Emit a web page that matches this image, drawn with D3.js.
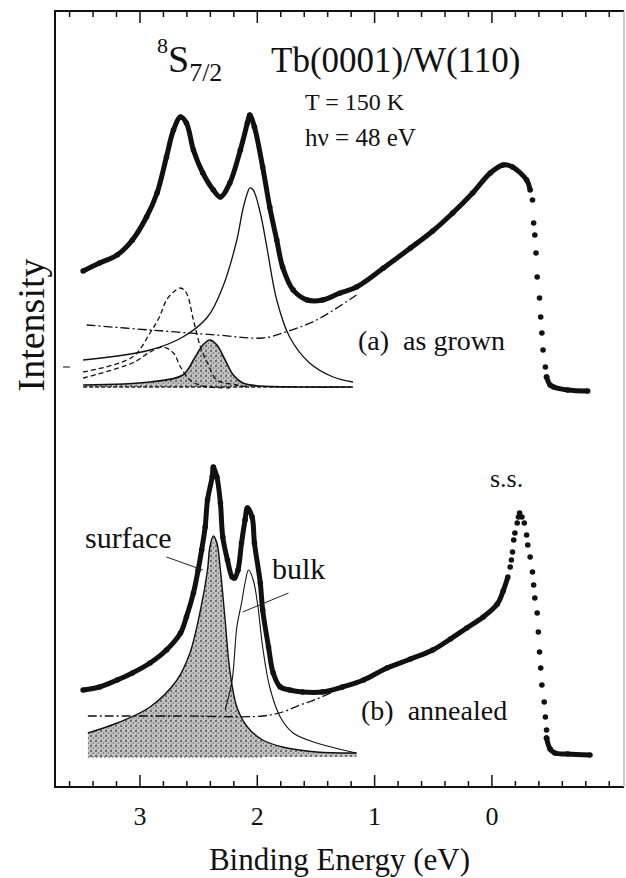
<!DOCTYPE html>
<html>
<head>
<meta charset="utf-8">
<script src="https://d3js.org/d3.v7.min.js"></script>
<style>
body { margin: 0; background: #fff; }
text { font-family: "Liberation Serif", "Times New Roman", serif; fill: #111; }
</style>
</head>
<body>
<script>
// binding energy (eV), intensity (arb. units)

// (a) as grown - measured points
var specA = [[3.48,51.6],[3.34,52.4],[3.19,53.2],[3.06,54.7],[2.94,57.0],[2.85,59.4],[2.77,63.0],
  [2.71,65.7],[2.65,67.0],[2.60,66.4],[2.54,63.7],[2.46,61.4],[2.37,59.7],[2.31,59.0],[2.23,60.4],
  [2.14,63.7],[2.08,66.4],[2.06,67.2],[2.02,66.0],[1.95,62.0],[1.89,58.0],[1.83,54.7],[1.78,52.0],
  [1.69,49.7],[1.57,48.7],[1.44,48.7],[1.29,49.4],[1.15,50.0],[0.92,51.9],[0.69,53.9],[0.50,55.6],
  [0.33,57.4],[0.16,59.4],[0.01,61.4],[-0.10,62.2],[-0.18,62.0],[-0.30,60.7],[-0.33,59.7]];
var specAEdge = [[-0.35,58.7],[-0.36,56.4],[-0.37,55.2],[-0.38,53.4],[-0.39,51.0],[-0.41,48.9],
  [-0.42,47.0],[-0.43,45.4],[-0.44,43.7],[-0.46,42.0],[-0.47,41.0]];
var specATail = [[-0.47,41.0],[-0.50,40.2],[-0.53,40.0],[-0.65,39.7],[-0.82,39.6]];

// (a) fit components
var bulkA = [[3.48,42.7],[2.91,43.7],[2.63,45.0],[2.42,47.0],[2.29,50.0],[2.17,54.7],[2.12,57.7],
  [2.08,59.4],[2.06,59.9],[2.03,59.7],[1.97,57.4],[1.91,53.7],[1.83,48.7],[1.72,45.0],[1.55,42.4],
  [1.35,41.0],[1.18,40.5]];
var dashA1 = [[3.48,41.5],[3.06,43.0],[2.91,45.4],[2.83,47.0],[2.77,48.7],[2.71,49.5],[2.65,49.9],
  [2.60,49.4],[2.54,46.7],[2.48,44.0],[2.42,42.4],[2.34,40.7],[2.17,40.2],[2.06,40.0]];
var dashA2 = [[3.48,40.9],[3.06,42.4],[2.91,43.5],[2.80,44.0],[2.71,43.4],[2.65,42.0],[2.57,40.7],
  [2.46,40.1],[2.23,39.9]];
var surfA = [[3.48,40.2],[2.91,40.5],[2.63,41.2],[2.53,42.9],[2.46,44.2],[2.40,44.7],[2.34,44.2],
  [2.27,42.7],[2.20,41.2],[2.12,40.4],[1.97,40.1],[1.63,40.0],[1.18,40.0]];
var bgA = [[3.45,46.2],[2.91,45.7],[2.34,45.2],[1.95,44.9],[1.78,45.4],[1.49,46.7],[1.15,49.2]];
var baseA = 40.0;

// (b) annealed - measured points
var specB = [[3.48,9.7],[3.34,10.0],[3.19,10.7],[3.06,11.4],[2.91,12.4],[2.77,13.7],[2.65,15.4],
  [2.60,17.0],[2.54,19.4],[2.50,21.7],[2.47,23.7],[2.44,26.0],[2.42,28.7],[2.38,31.0],[2.37,32.0],
  [2.34,31.0],[2.31,28.4],[2.29,25.0],[2.25,22.7],[2.21,21.0],[2.19,20.9],[2.16,21.7],[2.13,24.4],
  [2.10,26.7],[2.08,27.9],[2.04,27.0],[2.02,24.4],[1.97,20.4],[1.95,17.7],[1.90,14.0],[1.86,11.4],
  [1.80,10.0],[1.72,9.7],[1.61,9.5],[1.44,9.5],[1.27,10.0],[1.09,10.7],[0.89,11.9],[0.69,12.8],
  [0.50,13.7],[0.35,14.8],[0.21,15.9],[0.07,17.0],[-0.05,18.3],[-0.10,19.6],[-0.14,21.0]];
var specBEdge = [[-0.16,22.0],[-0.17,22.7],[-0.18,23.5],[-0.19,24.7],[-0.20,25.4],[-0.22,26.4],
  [-0.23,27.0],[-0.24,27.4],[-0.26,27.0],[-0.28,26.4],[-0.30,25.2],[-0.31,24.2],[-0.33,23.0],
  [-0.35,21.5],[-0.36,20.2],[-0.37,18.9],[-0.39,17.4],[-0.40,15.5],[-0.41,13.5],[-0.42,11.9],
  [-0.43,10.2],[-0.45,8.5],[-0.46,7.0],[-0.47,5.7],[-0.47,4.9]];
var specBTail = [[-0.47,4.9],[-0.50,3.8],[-0.54,3.4],[-0.65,3.3],[-0.84,3.2]];

// (b) fit components
var surfB = [[3.44,5.4],[3.19,6.4],[2.91,8.0],[2.68,10.7],[2.57,13.4],[2.48,17.7],[2.42,21.7],
  [2.40,24.0],[2.37,25.1],[2.34,24.4],[2.31,21.7],[2.27,16.7],[2.23,11.7],[2.17,8.0],[2.08,6.0],
  [1.95,4.7],[1.78,4.0],[1.49,3.5],[1.15,3.4]];
var bulkB = [[2.27,7.7],[2.21,10.7],[2.17,16.0],[2.13,18.4],[2.10,20.4],[2.07,21.7],[2.03,20.7],
  [1.99,18.0],[1.95,14.0],[1.89,10.0],[1.80,7.0],[1.69,5.4],[1.49,4.4],[1.15,3.4]];
var bgB = [[3.44,7.1],[2.65,7.1],[1.95,7.1],[1.78,7.5],[1.63,8.2],[1.49,8.8],[1.35,9.5]];
var baseB = 3.0;

// axis ticks
var majorTicks = [3, 2, 1, 0];
var minorTicks = [3.6,3.4,3.2,2.8,2.6,2.4,2.2,1.8,1.6,1.4,1.2,0.8,0.6,0.4,0.2,-0.2,-0.4,-0.6,-0.8,-1.0];

var width = 626, height = 878;
var mLeft = 55, mRight = 624, mTop = 11, mBottom = 787;

var x = d3.scaleLinear().domain([3.72, -1.13]).range([mLeft, mRight]);
var y = d3.scaleLinear().domain([0, 77.6]).range([mBottom, mTop]);

var svg = d3.select("body").append("svg")
  .attr("width", width)
  .attr("height", height);

// stipple pattern for the surface component
var pat = svg.append("defs").append("pattern")
  .attr("id", "stip")
  .attr("width", 5).attr("height", 5)
  .attr("patternUnits", "userSpaceOnUse");
pat.append("rect").attr("width", 5).attr("height", 5).attr("fill", "#c4c4c4");
pat.append("circle").attr("cx", 1).attr("cy", 1).attr("r", 0.9).attr("fill", "#444");
pat.append("circle").attr("cx", 3.5).attr("cy", 3).attr("r", 0.8).attr("fill", "#666");
pat.append("circle").attr("cx", 1.5).attr("cy", 4).attr("r", 0.6).attr("fill", "#777");

var line = d3.line()
  .x(function(d){ return x(d[0]); })
  .y(function(d){ return y(d[1]); })
  .curve(d3.curveCatmullRom.alpha(0.5));

function area(base){
  return d3.area()
    .x(function(d){ return x(d[0]); })
    .y0(y(base))
    .y1(function(d){ return y(d[1]); })
    .curve(d3.curveCatmullRom.alpha(0.5));
}

var g = svg.append("g");

// shaded surface components
g.append("path").datum(surfA).attr("d", area(baseA)).attr("fill", "url(#stip)");
g.append("path").datum(surfB).attr("d", area(baseB)).attr("fill", "url(#stip)");

// baselines under components
g.append("line").attr("x1", x(3.48)).attr("x2", x(1.18))
  .attr("y1", y(baseA)).attr("y2", y(baseA))
  .attr("stroke", "#222").attr("stroke-width", 1.3).attr("stroke-dasharray", "4,2");
g.append("line").attr("x1", x(3.44)).attr("x2", x(1.95))
  .attr("y1", y(baseB)).attr("y2", y(baseB))
  .attr("stroke", "#555").attr("stroke-width", 1).attr("stroke-dasharray", "2,2");

// fit curves
var comps = [
  {d: bulkA, dash: null, w: 1.3},
  {d: dashA1, dash: "5,3", w: 1.3},
  {d: dashA2, dash: "5,3", w: 1.3},
  {d: surfA, dash: null, w: 1.6},
  {d: bgA, dash: "9,3,2,3", w: 1.3},
  {d: surfB, dash: null, w: 1.4},
  {d: bulkB, dash: null, w: 1.1},
  {d: bgB, dash: "9,3,2,3", w: 1.3}
];
g.selectAll(".comp").data(comps).enter().append("path")
  .attr("class", "comp")
  .attr("d", function(c){ return line(c.d); })
  .attr("fill", "none")
  .attr("stroke", "#111")
  .attr("stroke-width", function(c){ return c.w; })
  .attr("stroke-dasharray", function(c){ return c.dash; });

// measured spectra: dense parts as thick dotted trace
var dense = [specA, specATail, specB, specBTail];
g.selectAll(".trace").data(dense).enter().append("path")
  .attr("class", "trace")
  .attr("d", line)
  .attr("fill", "none")
  .attr("stroke", "#111")
  .attr("stroke-width", 5)
  .attr("stroke-linejoin", "round");

var allDots = [].concat(specA, specAEdge, specATail, specB, specBEdge, specBTail);
g.selectAll(".dot").data(allDots).enter().append("circle")
  .attr("class", "dot")
  .attr("cx", function(d){ return x(d[0]); })
  .attr("cy", function(d){ return y(d[1]); })
  .attr("r", 2.8)
  .attr("fill", "#111");

// leader lines
var leaders = [
  [[2.77, 23.0], [2.46, 21.7]],
  [[1.73, 19.4], [2.12, 17.5]]
];
g.selectAll(".leader").data(leaders).enter().append("line")
  .attr("class", "leader")
  .attr("x1", function(d){ return x(d[0][0]); })
  .attr("y1", function(d){ return y(d[0][1]); })
  .attr("x2", function(d){ return x(d[1][0]); })
  .attr("y2", function(d){ return y(d[1][1]); })
  .attr("stroke", "#222").attr("stroke-width", 1);

// frame: dark left/top/bottom, faint right edge
svg.append("path")
  .attr("d", "M" + mRight + "," + mTop + "H" + mLeft + "V" + mBottom + "H" + mRight)
  .attr("fill", "none").attr("stroke", "#111").attr("stroke-width", 2);
svg.append("line")
  .attr("x1", mRight).attr("x2", mRight).attr("y1", mTop).attr("y2", mBottom)
  .attr("stroke", "#aaa").attr("stroke-width", 1.2);

// ticks on bottom and top, pointing inward
svg.append("g").attr("transform", "translate(0," + mBottom + ")")
  .call(d3.axisBottom(x).tickValues(minorTicks).tickSize(-6).tickFormat(""))
  .call(function(a){ a.select(".domain").remove(); });
svg.append("g").attr("transform", "translate(0," + mBottom + ")")
  .call(d3.axisBottom(x).tickValues(majorTicks).tickSize(-12).tickPadding(20).tickFormat(d3.format("d")))
  .call(function(a){
    a.select(".domain").remove();
    a.selectAll("text").style("font-size", "26px").style("font-family", "'Liberation Serif', serif");
  });
svg.append("g").attr("transform", "translate(0," + mTop + ")")
  .call(d3.axisTop(x).tickValues(minorTicks).tickSize(-6).tickFormat(""))
  .call(function(a){ a.select(".domain").remove(); });
svg.append("g").attr("transform", "translate(0," + mTop + ")")
  .call(d3.axisTop(x).tickValues(majorTicks).tickSize(-12).tickFormat(""))
  .call(function(a){ a.select(".domain").remove(); });
svg.selectAll(".tick line").attr("stroke", "#111").attr("stroke-width", 1.5);

// small offset mark on left
svg.append("line").attr("x1", mLeft + 8).attr("x2", mLeft + 15)
  .attr("y1", y(42.0)).attr("y2", y(42.0))
  .attr("stroke", "#333").attr("stroke-width", 1.2);

// axis titles
svg.append("text")
  .attr("x", (mLeft + mRight) / 2).attr("y", 870)
  .attr("text-anchor", "middle").attr("font-size", 31)
  .text("Binding Energy (eV)");
svg.append("text")
  .attr("transform", "translate(44,325) rotate(-90)")
  .attr("text-anchor", "middle").attr("font-size", 38)
  .text("Intensity");

// annotations
var lab = svg.append("text").attr("x", 157).attr("y", 72);
lab.append("tspan").attr("font-size", 22).attr("dy", -19).text("8");
lab.append("tspan").attr("font-size", 38).attr("dy", 19).text("S");
lab.append("tspan").attr("font-size", 26).attr("dy", 9).text("7/2");

svg.append("text").attr("x", 271).attr("y", 72).attr("font-size", 35).text("Tb(0001)/W(110)");
svg.append("text").attr("x", 305).attr("y", 110).attr("font-size", 24).text("T = 150 K");
svg.append("text").attr("x", 305).attr("y", 146).attr("font-size", 25).text("h\u03bd = 48 eV");
svg.append("text").attr("x", 358).attr("y", 350).attr("font-size", 28)
  .style("white-space", "pre").text("(a)  as grown");
svg.append("text").attr("x", 361).attr("y", 720).attr("font-size", 28)
  .style("white-space", "pre").text("(b)  annealed");
svg.append("text").attr("x", 490).attr("y", 487).attr("font-size", 26).text("s.s.");
svg.append("text").attr("x", 85).attr("y", 548).attr("font-size", 30).text("surface");
svg.append("text").attr("x", 272).attr("y", 579).attr("font-size", 30).text("bulk");
</script>
</body>
</html>
